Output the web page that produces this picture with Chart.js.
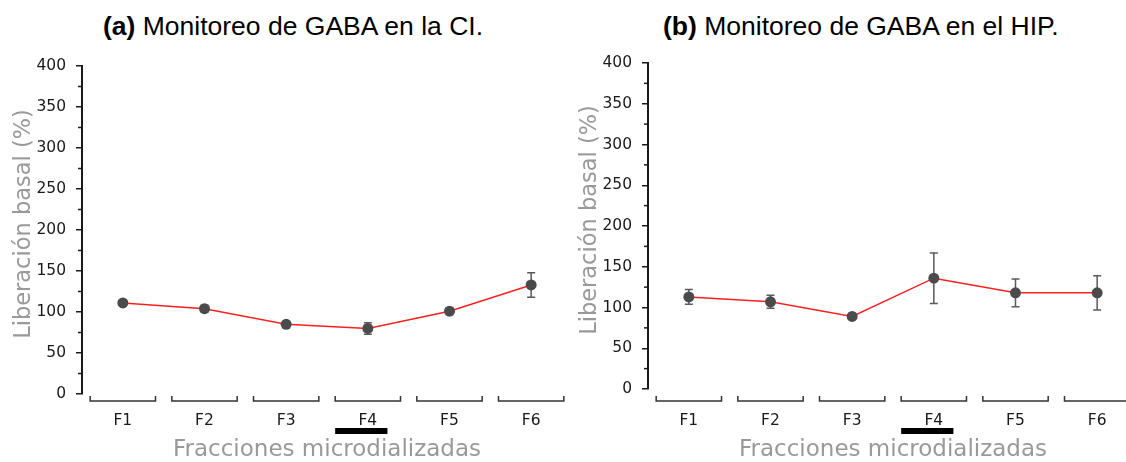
<!DOCTYPE html>
<html>
<head>
<meta charset="utf-8">
<script src="https://cdn.jsdelivr.net/npm/chart.js@4"></script>
<style>
  html, body { margin: 0; padding: 0; background: #fff; overflow: hidden; }
  #wrap { position: relative; width: 1126px; height: 462px; overflow: hidden; }
  canvas { position: absolute; top: 0; }
  .title { position: absolute; top: 13px; font-family: "Liberation Sans", Arial, sans-serif; font-size: 26.5px; line-height: 26px; color: #000; white-space: nowrap; }
</style>
</head>
<body>
<div id="wrap">
  <div class="title" style="left:103px"><b>(a)</b> Monitoreo de GABA en la CI.</div>
  <div class="title" style="left:663px"><b>(b)</b> Monitoreo de GABA en el HIP.</div>
  <canvas id="chartCI" width="590" height="462" style="left:0px"></canvas>
  <canvas id="chartHIP" width="590" height="462" style="left:566px"></canvas>
</div>
<script>
// microdialysis fractions and GABA release (% of basal), mean and SEM
const fractions = ['F1', 'F2', 'F3', 'F4', 'F5', 'F6'];
const ciMean = [111, 104, 85, 80, 101, 133];
const ciSem = [3, 4, 3, 7, 4, 15];
const hipMean = [113, 107, 89, 136, 118, 118];
const hipSem = [9, 8, 3, 31, 17, 21];
// fraction collected during stimulation (black bar)
const stimulusFraction = 'F4';

const yTitle = 'Liberación basal (%)';
const xTitle = 'Fracciones microdializadas';

const axisFont = { family: 'DejaVu Sans', size: 15.5 };
const inkColor = '#1a1a1a';

// error bars, minor ticks, category brackets, stimulus bar and axis titles
const panelDecor = {
  id: 'panelDecor',
  beforeDatasetsDraw(chart, args, opts) {
    const ctx = chart.ctx, x = chart.scales.x, y = chart.scales.y;
    const means = chart.data.datasets[0].data;
    ctx.save();
    ctx.strokeStyle = '#5a5a5a';
    ctx.lineWidth = 1.5;
    means.forEach((m, i) => {
      const px = x.getPixelForValue(i);
      const top = y.getPixelForValue(m + opts.sems[i]);
      const bot = y.getPixelForValue(m - opts.sems[i]);
      ctx.beginPath();
      ctx.moveTo(px, top); ctx.lineTo(px, bot);
      ctx.moveTo(px - 4, top); ctx.lineTo(px + 4, top);
      ctx.moveTo(px - 4, bot); ctx.lineTo(px + 4, bot);
      ctx.stroke();
    });
    ctx.restore();
  },
  afterDraw(chart, args, opts) {
    const ctx = chart.ctx, x = chart.scales.x, y = chart.scales.y;
    const area = chart.chartArea;
    ctx.save();

    // minor ticks between labelled ones
    ctx.strokeStyle = inkColor;
    ctx.lineWidth = 1.5;
    for (let v = 25; v < 400; v += 50) {
      const py = y.getPixelForValue(v);
      ctx.beginPath();
      ctx.moveTo(area.left - 4, py); ctx.lineTo(area.left, py);
      ctx.stroke();
    }

    // bracket under each fraction
    const band = x.getPixelForValue(1) - x.getPixelForValue(0);
    const half = band * 0.4;
    const by = opts.bracketY;
    ctx.strokeStyle = '#333';
    fractions.forEach((f, i) => {
      const cx = x.getPixelForValue(i);
      ctx.beginPath();
      ctx.moveTo(cx - half, by - 5);
      ctx.lineTo(cx - half, by);
      ctx.lineTo(cx + half, by);
      ctx.lineTo(cx + half, by - 5);
      ctx.stroke();
    });

    // stimulation bar
    const si = fractions.indexOf(stimulusFraction);
    ctx.fillStyle = '#000';
    ctx.fillRect(x.getPixelForValue(si) - half, by + 27, band * 0.64, 6);

    // axis titles
    ctx.fillStyle = '#999';
    ctx.font = '23px "DejaVu Sans"';
    ctx.textAlign = 'center';
    ctx.textBaseline = 'alphabetic';
    ctx.fillText(xTitle, (area.left + area.right) / 2, by + 55);

    ctx.font = '22.5px "DejaVu Sans"';
    ctx.translate(area.left - 52, (area.top + area.bottom) / 2 - 6);
    ctx.rotate(-Math.PI / 2);
    ctx.fillText(yTitle, 0, 0);
    ctx.restore();
  }
};

function makePanel(id, means, sems, dec) {
  return new Chart(document.getElementById(id), {
    type: 'line',
    data: {
      labels: fractions,
      datasets: [{
        data: means,
        borderColor: '#ff1f1f',
        borderWidth: 1.5,
        tension: 0,
        pointRadius: 5.5,
        pointBackgroundColor: '#4b4b4b',
        pointBorderColor: '#4b4b4b',
        pointBorderWidth: 0
      }]
    },
    options: {
      responsive: false,
      animation: false,
      layout: { padding: { top: dec.top, right: 18, left: 0, bottom: 0 } },
      plugins: {
        legend: { display: false },
        tooltip: { enabled: false },
        panelDecor: { sems: sems, bracketY: dec.bracketY }
      },
      scales: {
        x: {
          offset: true,
          grid: { display: false, drawTicks: false },
          border: { display: false },
          ticks: { color: inkColor, font: axisFont, padding: dec.labelPad },
          afterFit(s) { s.height = dec.xHeight; }
        },
        y: {
          min: 0,
          max: 400,
          ticks: { stepSize: 50, color: inkColor, font: axisFont, padding: 10 },
          grid: { drawOnChartArea: false, drawTicks: true, tickLength: 6, color: inkColor, lineWidth: 1.5 },
          border: { color: inkColor, width: 2 },
          afterFit(s) { s.width = 82; }
        }
      }
    },
    plugins: [panelDecor]
  });
}

makePanel('chartCI', ciMean, ciSem, { top: 66, xHeight: 68, labelPad: 18, bracketY: 401 });
makePanel('chartHIP', hipMean, hipSem, { top: 63, xHeight: 73, labelPad: 23, bracketY: 401 });
</script>
</body>
</html>
